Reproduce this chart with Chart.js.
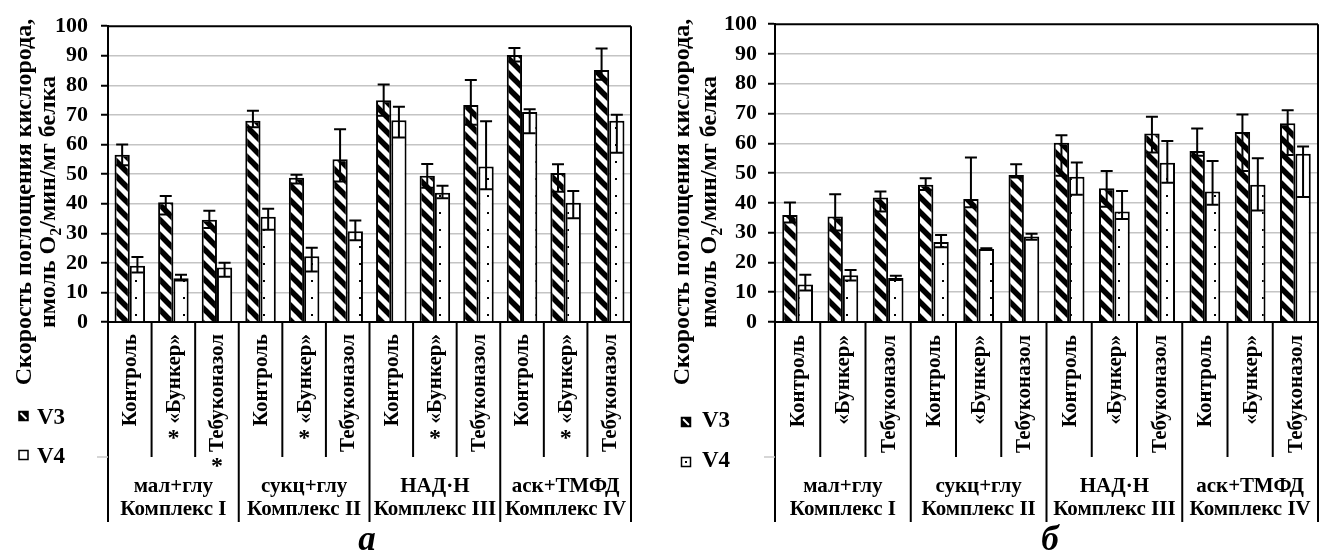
<!DOCTYPE html>
<html>
<head>
<meta charset="utf-8">
<script src="https://cdn.jsdelivr.net/npm/chart.js@4.4.1/dist/chart.umd.min.js"></script>
<style>
  html, body { margin: 0; padding: 0; background: #fff; }
  #wrap { position: relative; width: 1327px; height: 558px; overflow: hidden; }
  canvas { position: absolute; top: 0; }
</style>
</head>
<body>
<div id="wrap">
  <canvas id="chartA" width="663" height="558" style="left:0px"></canvas>
  <canvas id="chartB" width="664" height="558" style="left:663px"></canvas>
</div>
<script>
// ---- categories and labels ----
const categories = ['Контроль', '«Бункер»', 'Тебуконазол',
                    'Контроль', '«Бункер»', 'Тебуконазол',
                    'Контроль', '«Бункер»', 'Тебуконазол',
                    'Контроль', '«Бункер»', 'Тебуконазол'];
const groupSubstrates = ['мал+глу', 'сукц+глу', 'НАД·Н', 'аск+ТМФД'];
const groupComplexes = ['Комплекс I', 'Комплекс II', 'Комплекс III', 'Комплекс IV'];
const seriesNames = ['V3', 'V4'];
const yMin = 0, yMax = 100, yStep = 10;
const yTitleLine1 = 'Скорость поглощения кислорода,';
const yTitleLine2 = ['нмоль O', '2', '/мин/мг белка'];

// ---- panel а ----
const v3A     = [56.5, 40.5, 34.6, 68.0, 48.8, 55.0, 75.0, 49.4, 73.4, 90.3, 50.4, 85.2];
const v3AUp   = [3.5, 2.1, 3.0, 3.4, 1.0, 10.2, 5.3, 4.0, 8.4, 2.3, 2.9, 7.3];
const v3ADown = [3.5, 4.2, 2.8, 2.2, 2.0, 7.5, 5.3, 4.0, 6.7, 2.2, 6.4, 3.3];
const v4A     = [19.0, 14.8, 18.4, 35.6, 22.2, 30.7, 68.2, 43.7, 52.6, 71.0, 40.3, 68.0];
const v4AUp   = [3.0, 1.2, 1.6, 2.7, 2.9, 3.6, 4.6, 2.4, 15.3, 0.9, 4.0, 2.1];
const v4ADown = [2.3, 0.8, 3.1, 4.4, 5.1, 3.1, 5.8, 1.9, 7.7, 7.2, 5.2, 10.8];
const markedA = [1, 2, 4, 7, 10];   // categories flagged with *

// ---- panel б ----
const v3B     = [35.9, 35.4, 41.8, 46.1, 41.3, 49.4, 60.2, 44.9, 63.3, 57.4, 63.8, 66.7];
const v3BUp   = [4.2, 7.5, 2.0, 2.2, 13.9, 3.6, 2.5, 5.8, 5.6, 7.6, 5.9, 4.4];
const v3BDown = [2.5, 4.7, 4.7, 1.8, 2.8, 0.9, 11.1, 6.2, 6.4, 1.6, 13.1, 10.6];
const v4B     = [12.6, 15.7, 14.8, 26.9, 24.5, 28.7, 48.8, 37.1, 53.5, 43.8, 46.1, 56.5];
const v4BUp   = [3.3, 1.8, 0.7, 2.3, 0.3, 0.9, 4.8, 6.9, 7.3, 10.3, 8.9, 2.4];
const v4BDown = [2.0, 1.8, 0.7, 1.8, 0.3, 1.1, 6.1, 2.5, 6.7, 4.4, 8.7, 14.5];
const markedB = [];

const FONT = "'Liberation Serif', 'Times New Roman', serif";

// ---- fill patterns ----
function stripePattern() {
  const s = 15;
  const c = document.createElement('canvas');
  c.width = s; c.height = s;
  const g = c.getContext('2d');
  g.fillStyle = '#fff'; g.fillRect(0, 0, s, s);
  g.strokeStyle = '#000'; g.lineWidth = 5.5;
  [-s, 0, s].forEach(k => {
    g.beginPath(); g.moveTo(-3, -3 + k); g.lineTo(s + 3, s + 3 + k); g.stroke();
  });
  return g.createPattern(c, 'repeat');
}
function dotPattern() {
  const c = document.createElement('canvas');
  c.width = 16; c.height = 17;
  const g = c.getContext('2d');
  g.fillStyle = '#fff'; g.fillRect(0, 0, 16, 17);
  g.fillStyle = '#000'; g.fillRect(7, 8, 2, 2);
  return g.createPattern(c, 'repeat');
}

// ---- error bars (upper / lower amounts stored on each dataset) ----
const errorBars = {
  id: 'errorBars',
  afterDatasetsDraw(chart) {
    const { ctx, scales: { y } } = chart;
    ctx.save();
    ctx.strokeStyle = '#000';
    ctx.lineWidth = 2;
    chart.data.datasets.forEach((ds, di) => {
      const meta = chart.getDatasetMeta(di);
      meta.data.forEach((bar, j) => {
        const v = ds.data[j];
        const yHi = y.getPixelForValue(v + ds.errUp[j]);
        const yLo = y.getPixelForValue(v - ds.errDown[j]);
        const x = bar.x, cap = 6;
        ctx.beginPath();
        ctx.moveTo(x, yHi); ctx.lineTo(x, yLo);
        ctx.moveTo(x - cap, yHi); ctx.lineTo(x + cap, yHi);
        ctx.moveTo(x - cap, yLo); ctx.lineTo(x + cap, yLo);
        ctx.stroke();
      });
    });
    ctx.restore();
  }
};

// ---- frame, category table, axis title, legend, panel letter ----
const panelDecor = {
  id: 'panelDecor',
  afterDraw(chart, args, o) {
    const { ctx, chartArea: ca, scales: { x } } = chart;
    const n = categories.length;
    const w = x.getPixelForValue(1) - x.getPixelForValue(0);
    ctx.save();

    // top and right frame
    ctx.strokeStyle = '#000';
    ctx.lineWidth = 2;
    ctx.beginPath();
    ctx.moveTo(ca.left, ca.top); ctx.lineTo(ca.right, ca.top);
    ctx.stroke();

    // category / group separators below the axis
    for (let i = 0; i <= n; i++) {
      const bx = i < n ? x.getPixelForValue(i) - w / 2 : x.getPixelForValue(n - 1) + w / 2;
      const isGroup = i % 3 === 0;
      ctx.beginPath();
      ctx.moveTo(bx, i === n ? ca.top : ca.bottom);
      ctx.lineTo(bx, isGroup ? o.groupBottom : o.catBottom);
      ctx.stroke();
    }
    // faint mark at the level where the category row ends
    ctx.strokeStyle = '#c8c8c8';
    ctx.lineWidth = 1.5;
    ctx.beginPath();
    ctx.moveTo(ca.left - 11, o.catBottom); ctx.lineTo(ca.left, o.catBottom);
    ctx.stroke();

    // category labels (rotated, reading bottom-to-top)
    ctx.fillStyle = '#000';
    ctx.font = 'bold 21px ' + FONT;
    for (let i = 0; i < n; i++) {
      const cx = x.getPixelForValue(i);
      ctx.save();
      ctx.translate(cx + 1, o.labelTop);
      ctx.rotate(-Math.PI / 2);
      ctx.textAlign = 'right';
      ctx.textBaseline = 'middle';
      ctx.fillText(categories[i], 0, 0);
      ctx.restore();
      if (o.marked.includes(i)) {
        const lw = ctx.measureText(categories[i]).width;
        ctx.save();
        ctx.font = 'bold 24px ' + FONT;
        ctx.textAlign = 'center';
        ctx.textBaseline = 'alphabetic';
        ctx.fillText('*', cx, o.labelTop + lw + 10 + 11);
        ctx.restore();
      }
    }

    // group labels
    ctx.textAlign = 'center';
    ctx.textBaseline = 'middle';
    for (let g = 0; g < groupSubstrates.length; g++) {
      const gx = (x.getPixelForValue(g * 3) + x.getPixelForValue(g * 3 + 2)) / 2;
      ctx.fillText(groupSubstrates[g], gx, o.groupLine1);
      ctx.fillText(groupComplexes[g], gx, o.groupLine2);
    }

    // y-axis title (two rotated lines)
    ctx.save();
    ctx.translate(o.title1X, o.titleY);
    ctx.rotate(-Math.PI / 2);
    ctx.font = 'bold 24px ' + FONT;
    ctx.textAlign = 'center';
    ctx.textBaseline = 'alphabetic';
    ctx.fillText(yTitleLine1, 0, 0);
    ctx.restore();

    ctx.save();
    ctx.translate(o.title2X, o.titleY);
    ctx.rotate(-Math.PI / 2);
    ctx.textAlign = 'left';
    ctx.textBaseline = 'alphabetic';
    const mainF = 'bold 24px ' + FONT, subF = 'bold 16px ' + FONT;
    ctx.font = mainF; const w1 = ctx.measureText(yTitleLine2[0]).width;
    const w3 = ctx.measureText(yTitleLine2[2]).width;
    ctx.font = subF; const w2 = ctx.measureText(yTitleLine2[1]).width;
    let sx = -(w1 + w2 + w3) / 2;
    ctx.font = mainF; ctx.fillText(yTitleLine2[0], sx, 0);
    ctx.font = subF; ctx.fillText(yTitleLine2[1], sx + w1, 6);
    ctx.font = mainF; ctx.fillText(yTitleLine2[2], sx + w1 + w2, 0);
    ctx.restore();

    // legend
    const bs = 9;
    o.legend.forEach((it, k) => {
      const bx = it.boxX - bs / 2, by = it.boxY - bs / 2;
      if (k === 0) {
        ctx.fillStyle = '#000'; ctx.fillRect(bx, by, bs, bs);
        ctx.strokeStyle = '#fff'; ctx.lineWidth = 2;
        ctx.beginPath(); ctx.moveTo(bx + 1.5, by + 1.5); ctx.lineTo(bx + bs - 1.5, by + bs - 1.5); ctx.stroke();
      } else {
        ctx.fillStyle = '#fff'; ctx.fillRect(bx, by, bs, bs);
        if (o.legendDot) { ctx.fillStyle = '#000'; ctx.fillRect(it.boxX - 1, it.boxY - 1, 2, 2); }
      }
      ctx.strokeStyle = '#000'; ctx.lineWidth = 1.5;
      ctx.strokeRect(bx, by, bs, bs);
      ctx.fillStyle = '#000';
      ctx.font = 'bold 23px ' + FONT;
      ctx.textAlign = 'left';
      ctx.textBaseline = 'middle';
      ctx.fillText(seriesNames[k], it.textX, it.textY);
    });

    // panel letter
    ctx.font = 'italic bold 35px ' + FONT;
    ctx.textAlign = 'center';
    ctx.textBaseline = 'alphabetic';
    ctx.fillText(o.letter, o.letterX, o.letterY);

    ctx.restore();
  }
};

function makePanel(canvasId, v3, v3Up, v3Down, v4, v4Up, v4Down, p) {
  const stripes = stripePattern();
  const dots = dotPattern();
  return new Chart(document.getElementById(canvasId), {
    type: 'bar',
    data: {
      labels: categories,
      datasets: [
        { label: seriesNames[0], data: v3, errUp: v3Up, errDown: v3Down,
          backgroundColor: stripes, borderColor: '#000', borderWidth: 2,
          barPercentage: 1.0, categoryPercentage: p.catPct },
        { label: seriesNames[1], data: v4, errUp: v4Up, errDown: v4Down,
          backgroundColor: dots, borderColor: '#000', borderWidth: 2,
          barPercentage: 1.0, categoryPercentage: p.catPct }
      ]
    },
    options: {
      responsive: false,
      animation: false,
      devicePixelRatio: 1,
      layout: { padding: { top: 23, right: p.padRight, bottom: 0, left: 0 } },
      plugins: {
        legend: { display: false },
        tooltip: { enabled: false },
        panelDecor: p.decor
      },
      scales: {
        x: {
          ticks: { display: false },
          grid: { display: false },
          border: { display: true, color: '#000', width: 2 },
          afterFit: s => { s.height = 236; }
        },
        y: {
          min: yMin, max: yMax,
          ticks: { stepSize: yStep, color: '#000', padding: p.tickPad,
                   font: { family: FONT, size: 22, weight: 'bold' } },
          grid: {
            color: c => (c.tick && (c.tick.value === yMax || c.tick.value === yMin)) ? 'rgba(0,0,0,0)' : '#c4c4c4',
            lineWidth: 1.5,
            tickLength: 7,
            tickColor: '#000',
            tickWidth: 2
          },
          border: { display: true, color: '#000', width: 2 },
          afterFit: s => { s.width = p.axisLeft; }
        }
      }
    },
    plugins: [errorBars, panelDecor]
  });
}

makePanel('chartA', v3A, v3AUp, v3ADown, v4A, v4AUp, v4ADown, {
  catPct: 0.70, padRight: 32, axisLeft: 108, tickPad: 13,
  decor: {
    marked: markedA, labelTop: 334, catBottom: 457, groupBottom: 522,
    groupLine1: 487, groupLine2: 510,
    title1X: 31, title2X: 55, titleY: 202,
    legend: [ { boxX: 23.5, boxY: 416, textX: 37, textY: 418 },
              { boxX: 23.5, boxY: 455, textX: 37, textY: 457 } ],
    legendDot: false,
    letter: 'а', letterX: 367, letterY: 550
  }
});

makePanel('chartB', v3B, v3BUp, v3BDown, v4B, v4BUp, v4BDown, {
  catPct: 0.68, padRight: 9, axisLeft: 112, tickPad: 11,
  decor: {
    marked: markedB, labelTop: 335, catBottom: 457, groupBottom: 522,
    groupLine1: 487, groupLine2: 510,
    title1X: 26, title2X: 53, titleY: 202,
    legend: [ { boxX: 23, boxY: 422, textX: 39, textY: 421 },
              { boxX: 23, boxY: 462, textX: 39, textY: 461 } ],
    legendDot: true,
    letter: 'б', letterX: 387, letterY: 550
  }
});
</script>
</body>
</html>
